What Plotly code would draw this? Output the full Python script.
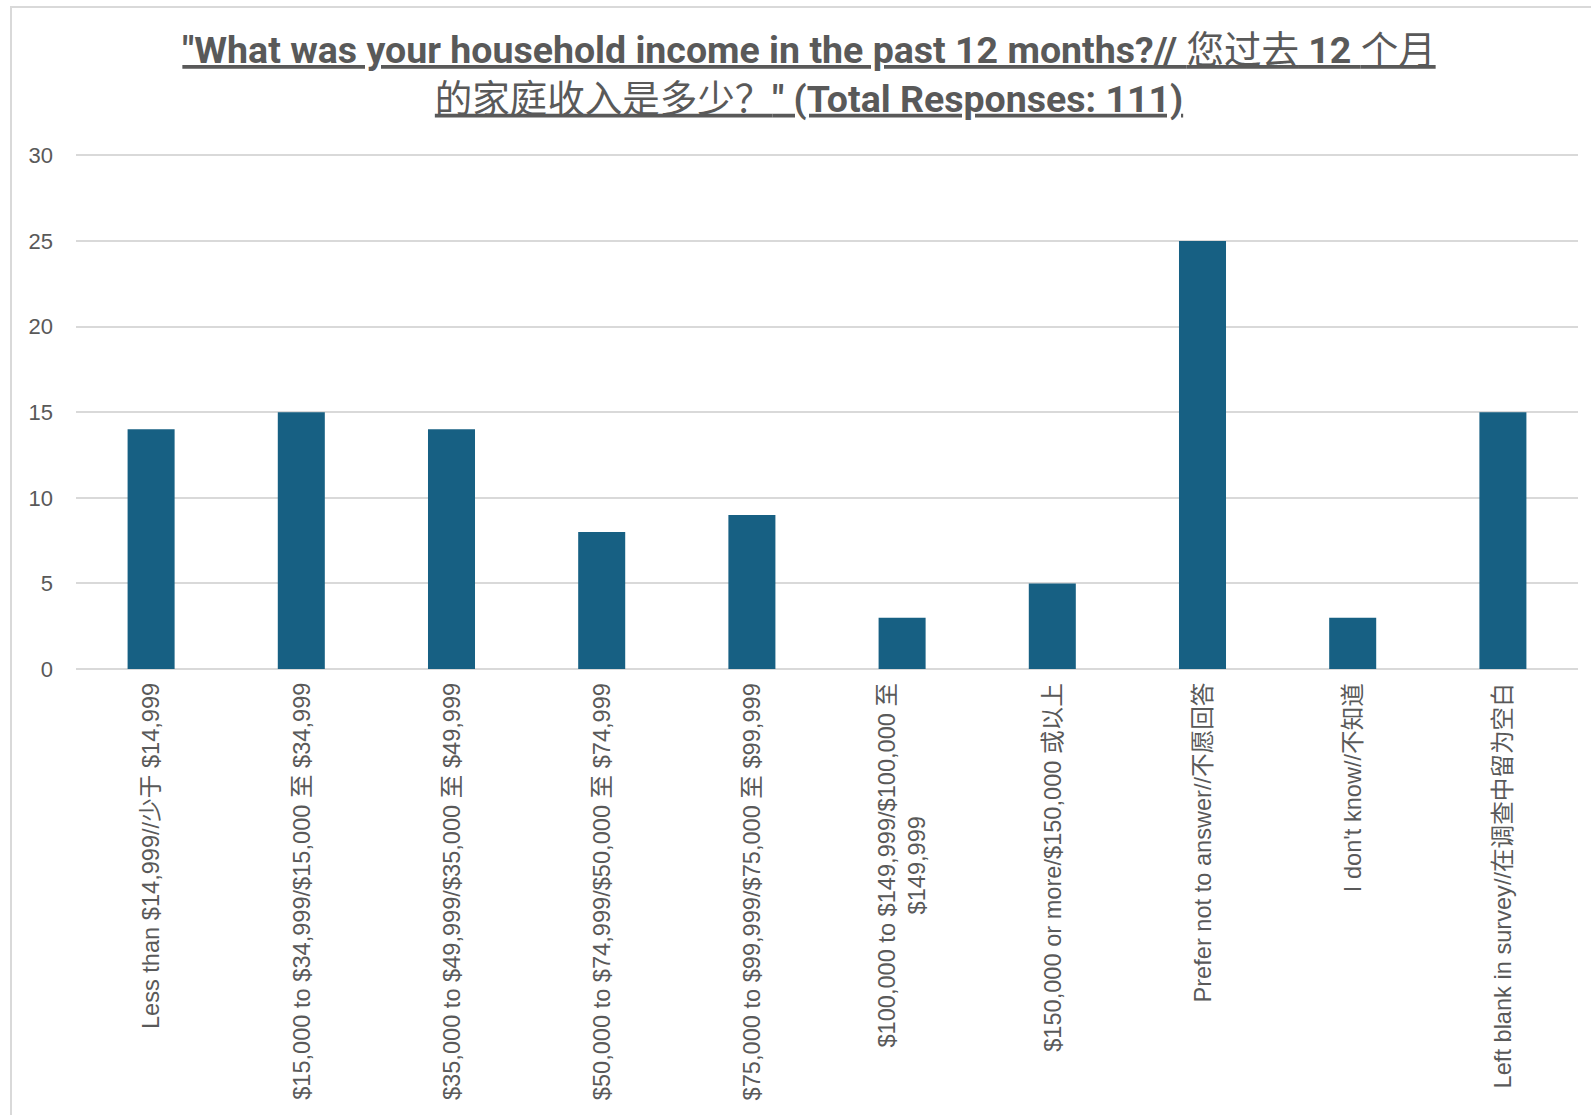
import plotly.graph_objects as go

categories = [
    "Less than $14,999//少于 $14,999",
    "$15,000 to $34,999/$15,000 至 $34,999",
    "$35,000 to $49,999/$35,000 至 $49,999",
    "$50,000 to $74,999/$50,000 至 $74,999",
    "$75,000 to $99,999/$75,000 至 $99,999",
    "$100,000 to $149,999/$100,000 至<br>$149,999",
    "$150,000 or more/$150,000 或以上",
    "Prefer not to answer//不愿回答",
    "I don't know//不知道",
    "Left blank in survey//在调查中留为空白",
]
counts = [14, 15, 14, 8, 9, 3, 5, 25, 3, 15]
y_ticks = [0, 5, 10, 15, 20, 25, 30]

W, H = 1591, 1115
L, R, T, B = 76, 13, 149, 446
plot_w = W - L - R
plot_h = H - T - B
unit_px = 513.6 / 30.0
y_top = plot_h / unit_px

GRAY = "#595959"
GRID = "#d9d9d9"
BAR = "#176083"

xs = list(range(len(categories)))

fig = go.Figure()
fig.add_trace(go.Bar(x=xs, y=counts, marker=dict(color=BAR, line=dict(width=0)),
                     hoverinfo="skip"))

title_text = (
    '<u><b>"What was your household income in the past 12 months?// </b>您过去<b> 12 </b>个月</u>'
    '<br><u>的家庭收入是多少？<b>" (Total Responses: 111)</b></u>'
)

annotations = []
for i, c in enumerate(categories):
    annotations.append(dict(
        x=i, xref="x", y=0, yref="paper", yanchor="top", xanchor="center",
        yshift=-12, text=c, textangle=-90, showarrow=False, align="center",
        font=dict(family="Liberation Sans, Arial, Noto Sans CJK SC", size=23.6, color=GRAY),
    ))

def px_x(p):
    return (p - L) / plot_w

def px_y(p):
    return (H - B - p) / plot_h

shapes = [dict(type="rect", xref="paper", yref="paper",
               x0=px_x(11), x1=px_x(1640), y0=px_y(1160), y1=px_y(7),
               line=dict(color=GRID, width=2), fillcolor="rgba(0,0,0,0)", layer="below")]

fig.update_layout(
    width=W, height=H,
    margin=dict(l=L, r=R, t=T, b=B, autoexpand=False),
    paper_bgcolor="white", plot_bgcolor="white",
    showlegend=False,
    bargap=0.687,
    title=dict(text=title_text, x=809 / W, xanchor="center", xref="container",
               y=1 - 63 / H, yanchor="top", yref="container",
               font=dict(family="Roboto, Noto Sans CJK SC", size=37.5, color=GRAY)),
    xaxis=dict(range=[-0.5, len(categories) - 0.5], showticklabels=False, ticks="",
               showgrid=False, zeroline=False, showline=False, fixedrange=True),
    yaxis=dict(range=[0, y_top], tickvals=y_ticks, ticktext=[str(v) for v in y_ticks],
               showgrid=True, gridcolor=GRID, gridwidth=1.5, zeroline=True,
               zerolinecolor=GRID, zerolinewidth=2, showline=False, ticks="",
               ticklabelstandoff=22, fixedrange=True,
               tickfont=dict(family="Liberation Sans, Arial", size=22, color=GRAY)),
    annotations=annotations,
    shapes=shapes,
)

fig.write_html("out.html", config={"displayModeBar": False},
               post_script="document.body.style.margin='0';document.body.style.overflow='hidden';")
